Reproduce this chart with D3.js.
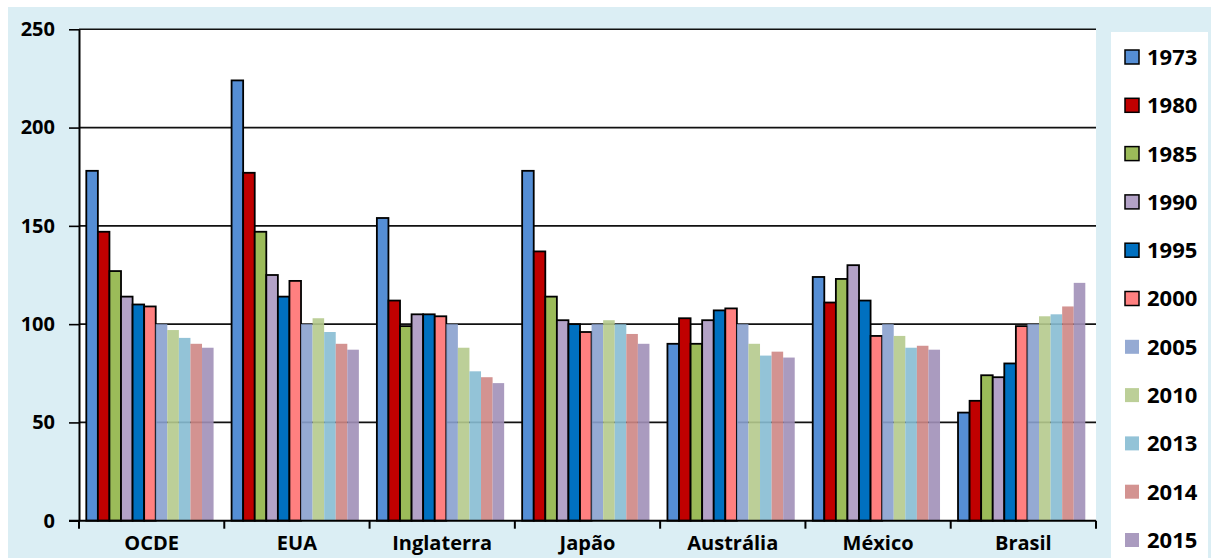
<!DOCTYPE html>
<html>
<head>
<meta charset="utf-8">
<script src="https://cdn.jsdelivr.net/npm/d3@7"></script>
<style>
  html, body { margin: 0; padding: 0; background: #ffffff; }
  svg { display: block; }
  text { font-family: "Open Sans", "DejaVu Sans", sans-serif; font-weight: 700; fill: #000; }
</style>
</head>
<body>
<svg id="chart" width="1211" height="558"></svg>
<script>
// Countries / regions along the x axis
const categories = ["OCDE", "EUA", "Inglaterra", "Japão", "Austrália", "México", "Brasil"];

// Series years (legend order)
const years = ["1973", "1980", "1985", "1990", "1995", "2000", "2005", "2010", "2013", "2014", "2015"];

// Index values per year, in the order of `categories` (2005 = 100)
const v1973 = [178, 224, 154, 178, 90, 124, 55];
const v1980 = [147, 177, 112, 137, 103, 111, 61];
const v1985 = [127, 147, 99, 114, 90, 123, 74];
const v1990 = [114, 125, 105, 102, 102, 130, 73];
const v1995 = [110, 114, 105, 100, 107, 112, 80];
const v2000 = [109, 122, 104, 96, 108, 94, 99];
const v2005 = [100, 100, 100, 100, 100, 100, 100];
const v2010 = [97, 103, 88, 102, 90, 94, 104];
const v2013 = [93, 96, 76, 100, 84, 88, 105];
const v2014 = [90, 90, 73, 95, 86, 89, 109];
const v2015 = [88, 87, 70, 90, 83, 87, 121];

const seriesValues = [v1973, v1980, v1985, v1990, v1995, v2000, v2005, v2010, v2013, v2014, v2015];

// Y axis tick labels
const yTicks = [0, 50, 100, 150, 200, 250];

// Fill colours per year; the later years are drawn slightly translucent
const colors = ["#558ed5", "#c00000", "#9bbb59", "#b3a2c7", "#0070c0", "#ff8080",
                "#89a1ce", "#b5ca8d", "#87bdd3", "#ce8785", "#a190b8"];
const outlined = [true, true, true, true, true, true, false, false, false, false, false];

const svg = d3.select("#chart");
const W = 1211, H = 558;

// Page frame: light-blue panel
svg.append("rect").attr("x", 8).attr("y", 7).attr("width", W - 8).attr("height", H - 7)
  .attr("fill", "#dbeef4");

const plot = { left: 79, right: 1096, top: 29.3, bottom: 520.7 };

const x = d3.scaleBand().domain(categories).range([plot.left, plot.right]).padding(0);
const xi = d3.scaleBand().domain(years).range([7.3, x.bandwidth() - 10.7]).padding(0);
const y = d3.scaleLinear().domain([0, 250]).range([plot.bottom, plot.top]);

// White plot area
svg.append("rect")
  .attr("x", plot.left).attr("y", plot.top)
  .attr("width", plot.right - plot.left).attr("height", plot.bottom - plot.top)
  .attr("fill", "#ffffff");

// Horizontal gridlines
svg.append("g").selectAll("line")
  .data(yTicks.filter(d => d > 0))
  .join("line")
  .attr("x1", plot.left).attr("x2", plot.right)
  .attr("y1", d => y(d)).attr("y2", d => y(d))
  .attr("stroke", "#111").attr("stroke-width", 1.6);

// Bars
const rows = [];
years.forEach((yr, si) => {
  categories.forEach((c, ci) => {
    rows.push({ year: yr, si, cat: c, value: seriesValues[si][ci] });
  });
});

svg.append("g").selectAll("rect")
  .data(rows)
  .join("rect")
  .attr("x", d => x(d.cat) + xi(d.year))
  .attr("y", d => y(d.value))
  .attr("width", xi.bandwidth())
  .attr("height", d => y(0) - y(d.value))
  .attr("fill", d => colors[d.si])
  .attr("fill-opacity", d => outlined[d.si] ? 1 : 0.9)
  .attr("stroke", d => outlined[d.si] ? "#000" : "none")
  .attr("stroke-width", 1.8);

// Y axis
const yAxis = d3.axisLeft(y).tickValues(yTicks).tickSize(10).tickSizeOuter(0).tickPadding(14);
const gy = svg.append("g").attr("transform", `translate(${plot.left},0)`).call(yAxis);
gy.select(".domain").attr("stroke", "#000").attr("stroke-width", 2);
gy.selectAll(".tick line").attr("stroke", "#000").attr("stroke-width", 1.6);
gy.selectAll(".tick text")
  .style("font-family", '"Open Sans", sans-serif')
  .style("font-weight", 700).style("font-size", "20px").attr("fill", "#000");

// X axis baseline, category separators and labels
svg.append("line")
  .attr("x1", plot.left - 10).attr("x2", plot.right)
  .attr("y1", y(0)).attr("y2", y(0))
  .attr("stroke", "#000").attr("stroke-width", 2);

const edges = categories.map(c => x(c)).concat([x.range()[1]]);
svg.append("g").selectAll("line")
  .data(edges)
  .join("line")
  .attr("x1", d => d).attr("x2", d => d)
  .attr("y1", y(0)).attr("y2", y(0) + 8)
  .attr("stroke", "#000").attr("stroke-width", 2);

svg.append("g").selectAll("text")
  .data(categories)
  .join("text")
  .attr("x", d => x(d) + x.bandwidth() / 2)
  .attr("y", 550)
  .attr("text-anchor", "middle")
  .style("font-size", "20px")
  .text(d => d);

// Legend
const legend = svg.append("g");
legend.append("rect")
  .attr("x", 1111).attr("y", 32).attr("width", 97).attr("height", H - 32)
  .attr("fill", "#ffffff");

const ly = d3.scalePoint().domain(years).range([57, 540]);
const items = legend.selectAll("g.item")
  .data(years)
  .join("g")
  .attr("class", "item")
  .attr("transform", d => `translate(1125,${ly(d)})`);

items.append("rect")
  .attr("x", 0).attr("y", -7).attr("width", 14).attr("height", 14)
  .attr("fill", (d, i) => colors[i])
  .attr("fill-opacity", (d, i) => outlined[i] ? 1 : 0.9)
  .attr("stroke", (d, i) => outlined[i] ? "#000" : "none")
  .attr("stroke-width", 1.5);

items.append("text")
  .attr("x", 22).attr("y", 0).attr("dy", "0.36em")
  .style("font-size", "22px")
  .text(d => d);
</script>
</body>
</html>
